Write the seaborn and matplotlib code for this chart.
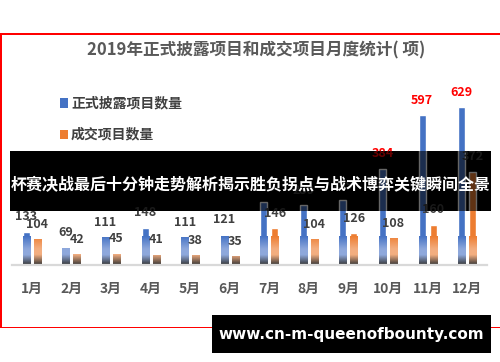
import numpy as np
import pandas as pd
import matplotlib
matplotlib.use("Agg")
import matplotlib.pyplot as plt
import seaborn as sns
from matplotlib.patches import Rectangle
from matplotlib.colors import to_rgb

# ---- data ----
months = ['1月', '2月', '3月', '4月', '5月', '6月', '7月', '8月', '9月', '10月', '11月', '12月']
disclosed = [133, 69, 111, 148, 111, 121, 251, 239, 259, 384, 597, 629]
deals = [104, 42, 45, 41, 38, 35, 146, 104, 126, 108, 160, 372]
series_names = ['正式披露项目数量', '成交项目数量']
title_text = '2019年正式披露项目和成交项目月度统计( 项)'
banner_text = '杯赛决战最后十分钟走势解析揭示胜负拐点与战术博弈关键瞬间全景'
url_text = 'www.cn-m-queenofbounty.com'

colors = ['#4472C4', '#ED7D31']
light_colors = ['#8ea8dc', '#f3ae80']

df = pd.DataFrame({
    'month': months * 2,
    'series': [series_names[0]] * len(months) + [series_names[1]] * len(months),
    'value': disclosed + deals,
})

sns.set_theme(style='white')
plt.rcParams['font.family'] = ['Noto Sans CJK SC', 'DejaVu Sans']

W, H = 500, 362
fig = plt.figure(figsize=(W / 100, H / 100), dpi=100)
fig.patch.set_facecolor('white')


def fx(px):
    return px / W


def fy(py):
    return 1 - py / H


ax = fig.add_axes([fx(12), fy(265), fx(487) - fx(12), fy(100) - fy(265)])
ax.patch.set_visible(False)

sns.barplot(data=df, x='month', y='value', hue='series', palette=colors,
            width=0.556, gap=0.36, saturation=1, legend=False, ax=ax, zorder=2)

ymax = 657
# gradient at the bottom of bars
gmax = 115
n = 120
for ci, cont in enumerate(ax.containers):
    base = np.array(to_rgb(colors[ci]))
    light = np.array(to_rgb(light_colors[ci]))
    dark = np.array(to_rgb('#353535'))
    t = np.linspace(0, 1, n)
    img = np.zeros((n, 1, 3))
    for i, tv in enumerate(t):
        if tv < 0.35:
            c = dark + (light - dark) * (tv / 0.35)
        elif tv < 0.55:
            c = light
        else:
            c = light + (base - light) * ((tv - 0.55) / 0.45)
        img[i, 0] = c
    for p in cont.patches:
        x0 = p.get_x()
        w = p.get_width()
        im = ax.imshow(img, extent=[x0, x0 + w, 0, gmax], origin='lower',
                       aspect='auto', zorder=2.5, interpolation='bilinear')
        im.set_clip_path(p)

ax.set_xlim(-0.5, 11.5)
ax.set_ylim(0, ymax)

# value labels
for ci, cont in enumerate(ax.containers):
    vals = disclosed if ci == 0 else deals
    for p, v in zip(cont.patches, vals):
        cx = p.get_x() + p.get_width() / 2
        red = v > 300 and ci == 0
        ax.annotate(str(v), (cx, v), xytext=(0, 6), textcoords='offset points',
                    ha='center', va='bottom', fontsize=9, fontweight='bold',
                    color='#ff0000' if red else '#404040', zorder=4)

for s in ['top', 'left', 'right']:
    ax.spines[s].set_visible(False)
ax.spines['bottom'].set_color('#d9d9d9')
ax.spines['bottom'].set_linewidth(1.6)
ax.set_yticks([])
ax.set_xlabel('')
ax.set_ylabel('')
ax.tick_params(axis='x', length=0, pad=12, labelsize=10, labelcolor='#595959')
for lbl in ax.get_xticklabels():
    lbl.set_fontweight('bold')

# title
fig.text(fx(256), fy(50), title_text, ha='center', va='center', fontsize=12,
         fontweight='bold', color='#595959')

# legend
for i, (name, col) in enumerate(zip(series_names, colors)):
    yc = [103, 134][i]
    fig.patches.append(Rectangle((fx(60), fy(yc + 4.5)), fx(8), fy(yc - 4.5) - fy(yc + 4.5),
                                 transform=fig.transFigure, facecolor=col, edgecolor='none'))
    fig.text(fx(71), fy(yc), name, ha='left', va='center', fontsize=10,
             fontweight='bold', color='#404040')

# red frame
red = '#ff0000'
fig.patches.append(Rectangle((0, fy(35)), 1, fy(33) - fy(35), transform=fig.transFigure,
                             facecolor=red, edgecolor='none', zorder=3))
fig.patches.append(Rectangle((0, fy(328)), fx(2), fy(33) - fy(328), transform=fig.transFigure,
                             facecolor=red, edgecolor='none', zorder=3))
fig.patches.append(Rectangle((0, fy(328)), 1, fy(327) - fy(328), transform=fig.transFigure,
                             facecolor=red, edgecolor='none', zorder=3))

# banner: opaque underlay + translucent overlay above bars
fig.patches.append(Rectangle((fx(10), fy(211)), fx(491) - fx(10), fy(151) - fy(211),
                             transform=fig.transFigure, facecolor='black', edgecolor='none', zorder=-1))
fig.patches.append(Rectangle((fx(10), fy(211)), fx(491) - fx(10), fy(151) - fy(211),
                             transform=fig.transFigure, facecolor='black', edgecolor='none',
                             alpha=0.6, zorder=5))
fig.text(fx(250.5), fy(185), banner_text, ha='center', va='center', fontsize=11.5,
         fontweight='bold', color='white', zorder=6)

# url box
fig.patches.append(Rectangle((fx(212), fy(353)), fx(491) - fx(212), fy(315) - fy(353),
                             transform=fig.transFigure, facecolor='black', edgecolor='none', zorder=5))
fig.text(fx(351), fy(335), url_text, ha='center', va='center', fontsize=11,
         fontweight='bold', color='white', family='DejaVu Sans', zorder=6)

fig.savefig('out.png', dpi=100)
